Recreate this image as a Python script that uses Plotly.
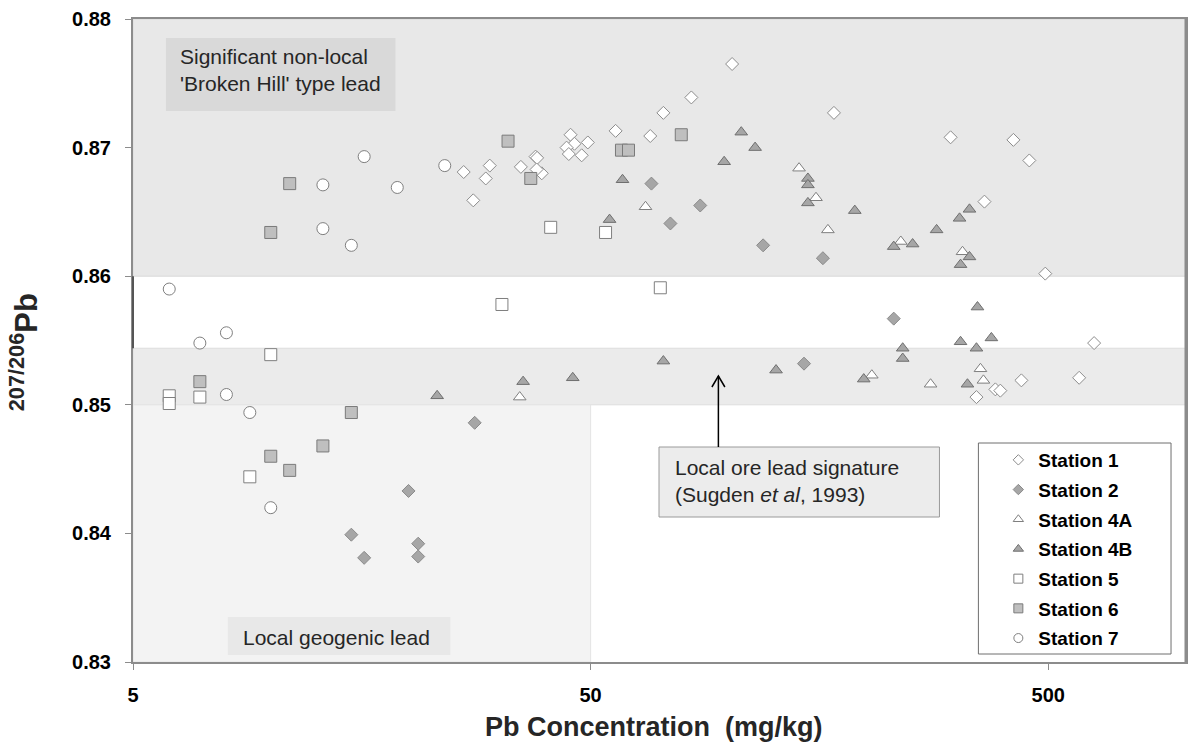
import math
import plotly.graph_objects as go

# ---------------- data ----------------
stations = ["Station 1", "Station 2", "Station 4A", "Station 4B", "Station 5", "Station 6", "Station 7"]

s1_x = [101.9, 83.0, 72.1, 56.7, 67.5, 45.2, 49.3, 46.1, 44.3, 44.8, 47.8, 37.9, 38.2, 39.1, 38.1, 35.2,
        30.1, 29.5, 26.4, 27.7, 170.1, 305.9, 419.6, 454.6, 362.7, 492.6, 629.8, 436.8, 584.2, 348.4, 383.2, 392.9]
s1_y = [0.8765, 0.8739, 0.8727, 0.8713, 0.8709, 0.8710, 0.8704, 0.8703, 0.8700, 0.8695, 0.8694, 0.8693,
        0.8692, 0.8680, 0.8683, 0.8685, 0.8686, 0.8676, 0.8681, 0.8659, 0.8727, 0.8708, 0.8706, 0.8690,
        0.8658, 0.8602, 0.8548, 0.8519, 0.8521, 0.8506, 0.8512, 0.8511]

s2_x = [67.9, 86.8, 74.7, 119.1, 160.9, 229.8, 146.3, 27.9, 15.0, 16.0, 20.0, 21.0, 21.0]
s2_y = [0.8672, 0.8655, 0.8641, 0.8624, 0.8614, 0.8567, 0.8532, 0.8486, 0.8399, 0.8381, 0.8433, 0.8392, 0.8382]

s4a_x = [35.0, 65.9, 142.7, 155.4, 165.0, 238.1, 324.8, 205.8, 276.6, 355.5, 360.9]
s4a_y = [0.8506, 0.8654, 0.8684, 0.8661, 0.8636, 0.8627, 0.8619, 0.8523, 0.8516, 0.8528, 0.8519]

s4b_x = [106.7, 114.4, 97.9, 58.7, 55.0, 149.2, 149.2, 149.2, 188.9, 285.1, 320.0, 336.4, 229.8, 252.7,
         336.4, 321.6, 350.2, 321.6, 375.6, 348.4, 240.4, 240.4, 197.6, 333.0, 127.1, 72.1, 45.7, 35.6, 23.1]
s4b_y = [0.8712, 0.8700, 0.8689, 0.8675, 0.8644, 0.8676, 0.8671, 0.8657, 0.8651, 0.8636, 0.8645, 0.8652,
         0.8623, 0.8625, 0.8615, 0.8609, 0.8576, 0.8549, 0.8552, 0.8544, 0.8544, 0.8536, 0.8520, 0.8516,
         0.8527, 0.8534, 0.8521, 0.8518, 0.8507]

s5_x = [40.9, 53.9, 71.0, 32.0, 10.0, 6.0, 6.0, 7.0, 9.0]
s5_y = [0.8638, 0.8634, 0.8591, 0.8578, 0.8539, 0.8507, 0.8501, 0.8506, 0.8444]

s6_x = [11.0, 10.0, 33.0, 37.0, 58.4, 60.5, 78.9, 7.0, 15.0, 13.0, 10.0, 11.0]
s6_y = [0.8672, 0.8634, 0.8705, 0.8676, 0.8698, 0.8698, 0.8710, 0.8518, 0.8494, 0.8468, 0.8460, 0.8449]

s7_x = [16.0, 13.0, 18.9, 24.0, 13.0, 15.0, 6.0, 7.0, 8.0, 8.0, 9.0, 10.0]
s7_y = [0.8693, 0.8671, 0.8669, 0.8686, 0.8637, 0.8624, 0.8590, 0.8548, 0.8556, 0.8508, 0.8494, 0.8420]

x_ticks = [5, 50, 500]
x_range = [5, 1000]
y_range = [0.83, 0.88]

# region bounds (data units)
nonlocal_y = [0.86, 0.88]
ore_y = [0.85, 0.8544]
geogenic_x = [5, 50]
geogenic_y = [0.83, 0.85]

# ---------------- figure ----------------
W, H = 1192, 747
L, R, T, B = 133, 4, 19, 85
PW, PH = W - L - R, H - T - B

def px(xp):
    return (xp - L) / PW

def py(yp):
    return (H - B - yp) / PH

def xdata_paper(v):
    lo, hi = math.log10(x_range[0]), math.log10(x_range[1])
    return (math.log10(v) - lo) / (hi - lo)

FONT = "Arial, Liberation Sans, sans-serif"

styles = [
    dict(symbol="diamond", size=10, color="white", line=dict(color="#8c8c8c", width=1)),
    dict(symbol="diamond", size=10, color="#a6a6a6", line=dict(color="#8a8a8a", width=1)),
    dict(symbol="triangle-up", size=11, color="white", line=dict(color="#7f7f7f", width=1)),
    dict(symbol="triangle-up", size=11, color="#a6a6a6", line=dict(color="#6f6f6f", width=1)),
    dict(symbol="square", size=12, color="white", line=dict(color="#7f7f7f", width=1)),
    dict(symbol="square", size=12, color="#bfbfbf", line=dict(color="#7a7a7a", width=1)),
    dict(symbol="circle", size=12, color="white", line=dict(color="#7f7f7f", width=1)),
]
legend_sizes = [8, 8, 9, 9, 9, 9, 9]
xs = [s1_x, s2_x, s4a_x, s4b_x, s5_x, s6_x, s7_x]
ys = [s1_y, s2_y, s4a_y, s4b_y, s5_y, s6_y, s7_y]

fig = go.Figure()
for name, x, y, st in zip(stations, xs, ys, styles):
    fig.add_trace(go.Scatter(x=x, y=y, mode="markers", name=name, legendgroup=name, showlegend=False,
                             marker=st, cliponaxis=False))
# legend entries with the smaller legend glyphs of the original
for name, st, ls in zip(stations, styles, legend_sizes):
    lst = dict(st)
    lst["size"] = ls
    fig.add_trace(go.Scatter(x=[None], y=[None], mode="markers", name=name, legendgroup=name,
                             showlegend=True, marker=lst))

shapes = []
# bands
shapes.append(dict(type="rect", xref="paper", yref="y", x0=0, x1=1, y0=nonlocal_y[0], y1=nonlocal_y[1],
                   fillcolor="#e8e8e8", line=dict(color="#d9d9d9", width=1), layer="below"))
shapes.append(dict(type="rect", xref="paper", yref="y", x0=0, x1=1, y0=ore_y[0], y1=ore_y[1],
                   fillcolor="#ebebeb", line=dict(color="#dddddd", width=1), layer="below"))
shapes.append(dict(type="rect", xref="paper", yref="y", x0=xdata_paper(geogenic_x[0]), x1=xdata_paper(geogenic_x[1]),
                   y0=geogenic_y[0], y1=geogenic_y[1],
                   fillcolor="#f3f3f3", line=dict(color="#e4e4e4", width=1), layer="below"))
# text boxes
shapes.append(dict(type="rect", xref="paper", yref="paper", x0=px(166), x1=px(396), y0=py(111), y1=py(38),
                   fillcolor="#d9d9d9", line=dict(width=0), layer="below"))
shapes.append(dict(type="rect", xref="paper", yref="paper", x0=px(228), x1=px(451), y0=py(655), y1=py(617),
                   fillcolor="#e8e8e8", line=dict(width=0), layer="below"))
shapes.append(dict(type="rect", xref="paper", yref="paper", x0=px(660), x1=px(941), y0=py(517), y1=py(447),
                   fillcolor="#ececec", line=dict(color="#9a9a9a", width=1), layer="above"))
# arrow
shapes.append(dict(type="line", xref="paper", yref="paper", x0=px(719.5), x1=px(719.5), y0=py(447), y1=py(376),
                   line=dict(color="black", width=1.5)))
shapes.append(dict(type="path", xref="paper", yref="paper",
                   path=f"M {px(713)},{py(387)} L {px(719.5)},{py(376)} L {px(726)},{py(387)}",
                   line=dict(color="black", width=1.5)))
# darker left spine segment
shapes.append(dict(type="line", xref="paper", yref="y", x0=0, x1=0, y0=ore_y[1], y1=nonlocal_y[0],
                   line=dict(color="#555555", width=2)))
# legend frame
shapes.append(dict(type="rect", xref="paper", yref="paper", x0=px(980), x1=px(1173), y0=py(654), y1=py(443),
                   fillcolor="white", line=dict(color="#6e6e6e", width=1), layer="above"))
# right frame thicker
shapes.append(dict(type="line", xref="paper", yref="paper", x0=1, x1=1, y0=0, y1=1,
                   line=dict(color="#8c8c8c", width=3)))

annotations = [
    dict(xref="paper", yref="paper", x=px(178), y=py(70), xanchor="left", yanchor="middle", showarrow=False,
         align="left", text="Significant non-local<br>'Broken Hill' type lead",
         font=dict(family=FONT, size=21, color="#262626")),
    dict(xref="paper", yref="paper", x=px(674), y=py(481), xanchor="left", yanchor="middle", showarrow=False,
         align="left", text="Local ore lead signature<br>(Sugden <i>et al</i>, 1993)",
         font=dict(family=FONT, size=21, color="#262626")),
    dict(xref="paper", yref="paper", x=px(241), y=py(637), xanchor="left", yanchor="middle", showarrow=False,
         align="left", text="Local geogenic lead",
         font=dict(family=FONT, size=21, color="#262626")),
    dict(xref="paper", yref="paper", x=px(655), y=py(727), xanchor="center", yanchor="middle", showarrow=False,
         text="<b>Pb Concentration  (mg/kg)</b>", font=dict(family=FONT, size=27, color="#262626")),
    dict(xref="paper", yref="paper", x=px(24), y=py(352), xanchor="center", yanchor="middle", showarrow=False,
         textangle=-90, text="<b><sup>207/206</sup>Pb</b>", font=dict(family=FONT, size=31, color="#262626")),
]

fig.update_layout(
    width=W, height=H,
    margin=dict(l=L, r=R, t=T, b=B, pad=0),
    paper_bgcolor="white", plot_bgcolor="white",
    font=dict(family=FONT, color="black"),
    shapes=shapes,
    annotations=annotations,
    showlegend=True,
    legend=dict(x=px(1000), y=py(441), xanchor="left", yanchor="top", bgcolor="rgba(0,0,0,0)",
                borderwidth=0, font=dict(family=FONT, size=19, color="black", weight="bold"),
                traceorder="grouped", tracegroupgap=2, itemsizing="trace", itemwidth=30),
    xaxis=dict(type="log", range=[math.log10(x_range[0]), math.log10(x_range[1])],
               tickvals=x_ticks, ticktext=[str(v) for v in x_ticks],
               showgrid=False, zeroline=False, showline=True, linecolor="#8c8c8c", linewidth=2, mirror=True,
               ticks="outside", ticklen=6, tickcolor="#8c8c8c", tickwidth=1,
               tickfont=dict(family=FONT, size=20, color="black", weight="bold"), ticklabelstandoff=8),
    yaxis=dict(range=y_range, dtick=0.01, tick0=0.83, tickformat=".2f",
               showgrid=False, zeroline=False, showline=True, linecolor="#8c8c8c", linewidth=2, mirror=True,
               ticks="outside", ticklen=6, tickcolor="#8c8c8c", tickwidth=1,
               tickfont=dict(family=FONT, size=20, color="black", weight="bold"), ticklabelstandoff=10),
)

fig.write_html("out.html")
